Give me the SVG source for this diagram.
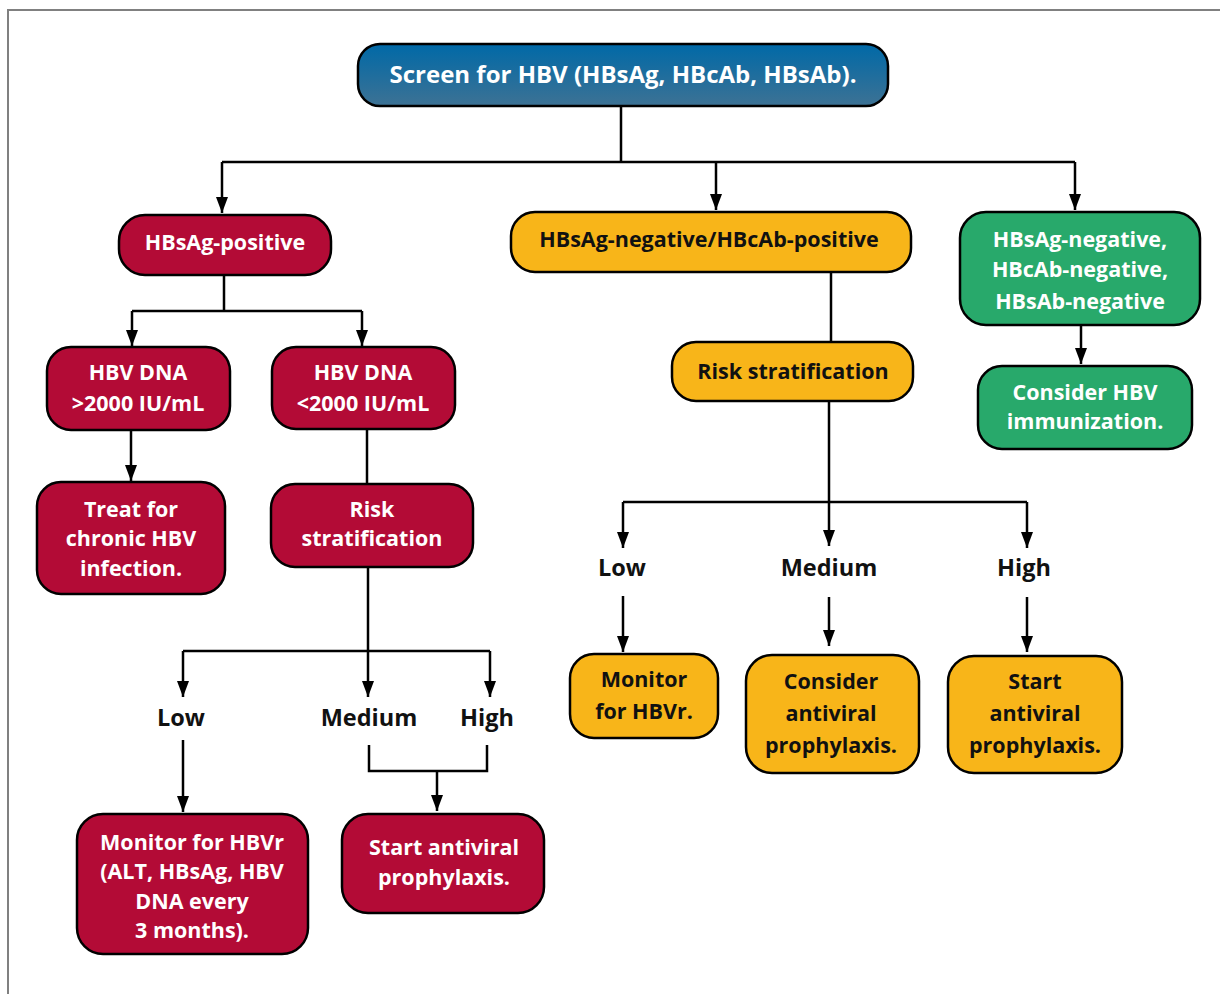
<svg xmlns="http://www.w3.org/2000/svg" width="1220" height="994" viewBox="0 0 1220 994">
<defs>
<linearGradient id="blueg" x1="0" y1="0" x2="0" y2="1">
<stop offset="0" stop-color="#0069A7"/>
<stop offset="1" stop-color="#3D7294"/>
</linearGradient>
<marker id="arr" viewBox="0 0 16 12" refX="16" refY="6" markerWidth="16" markerHeight="12" markerUnits="userSpaceOnUse" orient="auto">
<path d="M0,0 L16,6 L0,12 Z" fill="#000"/>
</marker>
</defs>
<style>
.box{stroke:#000;stroke-width:2.5}
.red{fill:#B30B36}
.yel{fill:#F8B519}
.grn{fill:#28A96B}
.wt{font-family:"Open Sans","Noto Sans",sans-serif;font-weight:700;font-size:21.5px;fill:#fff;text-anchor:middle}
.bt{font-family:"Open Sans","Noto Sans",sans-serif;font-weight:700;font-size:21.5px;fill:#111;text-anchor:middle}
.lb{font-family:"Open Sans","Noto Sans",sans-serif;font-weight:700;font-size:23.5px;fill:#111;text-anchor:middle}
.ln{fill:none;stroke:#000;stroke-width:2.5}
.ar{fill:none;stroke:#000;stroke-width:2.5;marker-end:url(#arr)}
</style>
<rect width="1220" height="994" fill="#fff"/>
<path d="M8,994 V10 H1220" fill="none" stroke="#808080" stroke-width="2"/>

<g id="connectors">
<path class="ln" d="M621,106 V162 M222,162 H1075"/>
<path class="ar" d="M222,162 V213"/>
<path class="ar" d="M716,162 V210"/>
<path class="ar" d="M1075,162 V210"/>
<path class="ln" d="M224,275 V311 M132,311 H362"/>
<path class="ar" d="M132,311 V346"/>
<path class="ar" d="M362,311 V346"/>
<path class="ar" d="M131,430 V481"/>
<path class="ln" d="M367,429 V484"/>
<path class="ln" d="M183,651 H490"/>
<path class="ar" d="M368,567 V697"/>
<path class="ar" d="M183,651 V697"/>
<path class="ar" d="M490,651 V697"/>
<path class="ar" d="M183,740 V812"/>
<path class="ln" d="M369,745 V771 H487 V745"/>
<path class="ar" d="M437,771 V811"/>
<path class="ln" d="M831,272 V342"/>
<path class="ln" d="M829,401 V502 M623,502 H1027"/>
<path class="ar" d="M623,502 V548"/>
<path class="ar" d="M829,502 V546"/>
<path class="ar" d="M1027,502 V548"/>
<path class="ar" d="M623,596 V652"/>
<path class="ar" d="M829,597 V646"/>
<path class="ar" d="M1027,597 V652"/>
<path class="ar" d="M1081,325 V364"/>
</g>

<g id="screen">
<rect class="box" x="358" y="44" width="530" height="62" rx="22" fill="url(#blueg)"/>
<text class="wt" x="623" y="83" style="font-size:24px">Screen for HBV (HBsAg, HBcAb, HBsAb).</text>
</g>
<g id="hbsag-pos">
<rect class="box red" x="119" y="215" width="212" height="60" rx="26"/>
<text class="wt" x="225" y="250">HBsAg-positive</text>
</g>
<g id="hbsag-neg-hbcab-pos">
<rect class="box yel" x="511" y="212" width="400" height="60" rx="24"/>
<text class="bt" x="709" y="247">HBsAg-negative/HBcAb-positive</text>
</g>
<g id="all-neg">
<rect class="box grn" x="960" y="212" width="240" height="113" rx="26"/>
<text class="wt" x="1080" y="247">HBsAg-negative,</text>
<text class="wt" x="1080" y="277">HBcAb-negative,</text>
<text class="wt" x="1080" y="309">HBsAb-negative</text>
</g>
<g id="immunize">
<rect class="box grn" x="978" y="366" width="214" height="83" rx="24"/>
<text class="wt" x="1085" y="400">Consider HBV</text>
<text class="wt" x="1085" y="429">immunization.</text>
</g>
<g id="dna-high">
<rect class="box red" x="47" y="347" width="183" height="83" rx="24"/>
<text class="wt" x="138" y="380">HBV DNA</text>
<text class="wt" x="138" y="411">&gt;2000 IU/mL</text>
</g>
<g id="dna-low">
<rect class="box red" x="272" y="347" width="183" height="82" rx="24"/>
<text class="wt" x="363" y="380">HBV DNA</text>
<text class="wt" x="363" y="411">&lt;2000 IU/mL</text>
</g>
<g id="treat">
<rect class="box red" x="37" y="482" width="188" height="112" rx="24"/>
<text class="wt" x="131" y="517">Treat for</text>
<text class="wt" x="131" y="546">chronic HBV</text>
<text class="wt" x="131" y="576">infection.</text>
</g>
<g id="risk-red">
<rect class="box red" x="271" y="484" width="202" height="83" rx="24"/>
<text class="wt" x="372" y="517">Risk</text>
<text class="wt" x="372" y="546">stratification</text>
</g>
<g id="risk-yel">
<rect class="box yel" x="672" y="342" width="241" height="59" rx="24"/>
<text class="bt" x="793" y="379">Risk stratification</text>
</g>
<g id="labels-left">
<text class="lb" x="181" y="726">Low</text>
<text class="lb" x="369" y="726">Medium</text>
<text class="lb" x="487" y="726">High</text>
</g>
<g id="labels-right">
<text class="lb" x="622" y="576">Low</text>
<text class="lb" x="829" y="576">Medium</text>
<text class="lb" x="1024" y="576">High</text>
</g>
<g id="monitor-red">
<rect class="box red" x="77" y="814" width="231" height="140" rx="26"/>
<text class="wt" x="192" y="850">Monitor for HBVr</text>
<text class="wt" x="192" y="879">(ALT, HBsAg, HBV</text>
<text class="wt" x="192" y="909">DNA every</text>
<text class="wt" x="192" y="938">3 months).</text>
</g>
<g id="start-red">
<rect class="box red" x="342" y="814" width="202" height="99" rx="26"/>
<text class="wt" x="444" y="855">Start antiviral</text>
<text class="wt" x="444" y="885">prophylaxis.</text>
</g>
<g id="monitor-yel">
<rect class="box yel" x="570" y="654" width="148" height="84" rx="24"/>
<text class="bt" x="644" y="687">Monitor</text>
<text class="bt" x="644" y="719">for HBVr.</text>
</g>
<g id="consider-yel">
<rect class="box yel" x="746" y="655" width="173" height="118" rx="26"/>
<text class="bt" x="831" y="689">Consider</text>
<text class="bt" x="831" y="721">antiviral</text>
<text class="bt" x="831" y="753">prophylaxis.</text>
</g>
<g id="start-yel">
<rect class="box yel" x="948" y="656" width="174" height="117" rx="26"/>
<text class="bt" x="1035" y="689">Start</text>
<text class="bt" x="1035" y="721">antiviral</text>
<text class="bt" x="1035" y="753">prophylaxis.</text>
</g>
</svg>
